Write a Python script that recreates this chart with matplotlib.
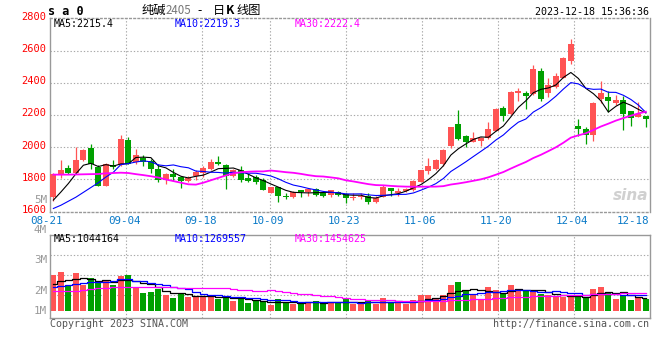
import numpy as np
import pandas as pd
import matplotlib
matplotlib.use("Agg")
import matplotlib.pyplot as plt
import matplotlib.transforms as mtransforms

# ---------------- data ----------------
opens = [1693, 1831, 1874, 1843, 1919, 1997, 1878, 1759, 1892, 1888,
         2046, 1909, 1933, 1915, 1864, 1796, 1837, 1813, 1790, 1821,
         1843, 1867, 1908, 1892, 1820, 1861, 1806, 1816, 1796, 1718,
         1751, 1696, 1690, 1735, 1725, 1743, 1714, 1704, 1725, 1710,
         1686, 1690, 1699, 1662, 1692, 1744, 1719, 1727, 1733, 1785,
         1850, 1867, 1898, 2010, 2144, 2072, 2035, 2041, 2055, 2103,
         2242, 2207, 2339, 2339, 2328, 2472, 2339, 2375, 2431, 2533,
         2134, 2115, 2074, 2300, 2314, 2277, 2293, 2222, 2187, 2191]
highs = [1840, 1919, 1888, 2001, 1991, 2022, 1888, 1901, 1923, 2077,
         2063, 1991, 1954, 1925, 1895, 1839, 1862, 1823, 1823, 1858,
         1884, 1929, 1945, 1898, 1863, 1884, 1837, 1827, 1806, 1755,
         1753, 1718, 1727, 1737, 1745, 1745, 1718, 1737, 1731, 1714,
         1713, 1717, 1713, 1699, 1768, 1748, 1744, 1744, 1799, 1860,
         1934, 1928, 1990, 2127, 2230, 2076, 2096, 2062, 2154, 2246,
         2256, 2351, 2369, 2349, 2509, 2492, 2431, 2462, 2560, 2669,
         2175, 2123, 2279, 2410, 2349, 2324, 2318, 2226, 2283, 2195]
lows = [1668, 1806, 1831, 1840, 1917, 1864, 1757, 1757, 1868, 1886,
        1897, 1899, 1882, 1843, 1786, 1772, 1790, 1749, 1786, 1796,
        1815, 1857, 1888, 1739, 1818, 1782, 1786, 1772, 1733, 1716,
        1659, 1680, 1684, 1694, 1698, 1700, 1694, 1694, 1698, 1653,
        1672, 1680, 1647, 1651, 1690, 1699, 1699, 1723, 1731, 1783,
        1836, 1861, 1883, 1994, 2045, 2004, 2031, 2006, 2053, 2101,
        2160, 2201, 2287, 2238, 2322, 2287, 2314, 2365, 2427, 2515,
        2068, 2017, 2037, 2273, 2216, 2263, 2109, 2134, 2185, 2123]
closes = [1837, 1858, 1839, 1923, 1985, 1895, 1759, 1899, 1878, 2052,
          1899, 1954, 1909, 1864, 1796, 1837, 1813, 1790, 1811, 1847,
          1874, 1908, 1896, 1820, 1857, 1796, 1792, 1786, 1735, 1751,
          1698, 1692, 1725, 1725, 1743, 1704, 1698, 1733, 1704, 1684,
          1692, 1699, 1662, 1686, 1754, 1727, 1731, 1738, 1789, 1856,
          1881, 1918, 1980, 2123, 2051, 2031, 2057, 2057, 2113, 2236,
          2195, 2343, 2349, 2320, 2484, 2300, 2386, 2441, 2554, 2638,
          2115, 2078, 2277, 2334, 2287, 2293, 2207, 2181, 2207, 2175]
# volume, in millions of lots
volumes = [3.03, 3.25, 2.08, 3.17, 2.19, 2.78, 2.42, 2.50, 2.19, 2.94,
           3.03, 2.00, 1.50, 1.58, 1.81, 1.36, 1.08, 1.50, 1.17, 1.17,
           1.19, 1.22, 1.03, 1.25, 0.83, 1.03, 0.67, 0.89, 0.81, 0.53,
           0.97, 0.75, 0.61, 0.61, 0.75, 0.83, 0.67, 0.75, 0.67, 0.97,
           0.61, 0.56, 0.83, 0.61, 1.08, 0.75, 0.75, 0.61, 0.94, 1.31,
           1.36, 1.11, 1.36, 2.19, 2.42, 1.78, 1.31, 0.97, 2.00, 1.72,
           1.50, 2.19, 1.72, 1.64, 1.64, 1.44, 1.36, 1.17, 1.17, 1.31,
           1.22, 1.08, 1.86, 2.00, 1.58, 1.03, 1.31, 0.94, 1.17, 1.03]

# moving-average values at the start of the window (history before the chart)
ma5_head = [1672, 1722, 1775, 1835]
ma10_head = [1620, 1640, 1665, 1690, 1720, 1750, 1780, 1815, 1845]
ma30_head = [1830, 1830, 1830, 1831, 1832, 1833, 1834, 1838, 1840, 1842,
             1840, 1833, 1827, 1820, 1812, 1800, 1790, 1780, 1770, 1768,
             1780, 1795, 1810, 1825, 1838, 1845, 1848, 1850, 1850]
vma5_head = [2.25, 2.47, 2.58, 2.64]
vma10_head = [1.97, 2.06, 2.14, 2.25, 2.33, 2.39, 2.42, 2.42, 2.50]
vma30_head = [1.66, 1.66, 1.67, 1.68, 1.75, 1.85, 1.90, 1.94, 1.96, 1.97,
              1.99, 2.01, 2.02, 2.02, 2.02, 2.00, 1.97, 1.95, 1.93, 1.92,
              1.92, 1.92, 1.91, 1.90, 1.85, 1.78, 1.73, 1.70, 1.67]

date_labels = ["08-21", "09-04", "09-18", "10-09", "10-23", "11-06", "11-20", "12-04", "12-18"]
date_label_idx = [0, 10, 20, 29, 39, 49, 59, 69, 79]
price_ticks = [2800, 2600, 2400, 2200, 2000, 1800, 1600]
vol_tick_labels = ["5M", "4M", "3M", "2M", "1M"]

title_code = "s a 0"
title_name = "纯碱"
title_contract = "2405"
title_dash = "-"
title_day = "日"
title_k = "K"
title_tail = "线图"
timestamp = "2023-12-18 15:36:36"
price_ma_labels = ["MA5:2215.4", "MA10:2219.3", "MA30:2222.4"]
vol_ma_labels = ["MA5:1044164", "MA10:1269557", "MA30:1454625"]
copyright_text = "Copyright 2023 SINA.COM"
url_text = "http://finance.sina.com.cn"


def moving_avg(values, head, w):
    s = pd.Series(values, dtype=float).rolling(w).mean().to_numpy()
    s[:w - 1] = head
    return s


ma5 = moving_avg(closes, ma5_head, 5)
ma10 = moving_avg(closes, ma10_head, 10)
ma30 = moving_avg(closes, ma30_head, 30)
vma5 = moving_avg(volumes, vma5_head, 5)
vma10 = moving_avg(volumes, vma10_head, 10)
vma30 = moving_avg(volumes, vma30_head, 30)

# ---------------- style ----------------
W, H = 660, 360
RED = "#FF5454"
GREEN = "#00A000"
GRIDC = "#A8A8A8"
FRAMEC = "#999999"
MONO = "DejaVu Sans Mono"
CJK = ["Noto Sans CJK SC", "DejaVu Sans"]
FS = 7.2
DOT = (0, (1.2, 1.8))

fig = plt.figure(figsize=(6.6, 3.6), dpi=100)
fig.patch.set_facecolor("white")


def px_axes(x0, y0, x1, y1):
    return fig.add_axes([x0 / W, 1 - y1 / H, (x1 - x0) / W, (y1 - y0) / H])


def ftext(x, y, s, **kw):
    fig.text(x / W, 1 - y / H, s, **kw)


ax = px_axes(50, 18.3, 650, 211.7)
axv = px_axes(50, 234.5, 650, 318)

n = len(closes)
x = np.arange(n)
xlim = (-0.45, n - 0.45)
grid_x = [k * n / (n - 1) - 0.45 for k in date_label_idx]

o = np.array(opens, float)
c = np.array(closes, float)
hi = np.array(highs, float)
lo = np.array(lows, float)
up = c >= o
cols = np.where(up, RED, GREEN)

# ---- price panel ----
for gx in grid_x[1:-1]:
    ax.axvline(gx, color=GRIDC, lw=0.8, ls=DOT, zorder=0)
for pt in price_ticks[1:-1]:
    ax.axhline(pt, color=GRIDC, lw=0.8, ls=DOT, zorder=0)

ax.vlines(x, lo, hi, colors=cols, lw=0.9, zorder=2)
body_h = np.maximum(np.abs(c - o), 5)
body_b = np.minimum(o, c)
ax.bar(x, body_h, bottom=body_b, width=0.8, color=cols, lw=0, zorder=3)

ax.plot(x, ma5, color="black", lw=0.8, zorder=4)
ax.plot(x, ma10, color="#0000FF", lw=0.8, zorder=4)
ax.plot(x, ma30, color="#FF00FF", lw=1.3, zorder=4)

ax.set_xlim(*xlim)
ax.set_ylim(price_ticks[-1], price_ticks[0])
ax.set_xticks([])
ax.set_yticks([])
for s in ax.spines.values():
    s.set_color(FRAMEC)
    s.set_linewidth(1.0)
ax.spines["top"].set_linestyle(DOT)
ax.spines["bottom"].set_linestyle(DOT)

ytrans = mtransforms.offset_copy(ax.get_yaxis_transform(), fig=fig, x=-3.3, y=1.5, units="dots")
for pt in price_ticks:
    ax.text(0, pt, str(pt), transform=ytrans, ha="right", va="center",
            color="#FF0000", fontsize=FS + 0.3, family=MONO, clip_on=False)

# date labels
xtrans = mtransforms.blended_transform_factory(ax.transData, fig.transFigure)
for k, (lab, gx) in enumerate(zip(date_labels, grid_x)):
    if k == len(date_labels) - 1:
        ha, gxx = "right", gx - 0.1
    elif k == 0:
        ha, gxx = "center", gx - 0.5
    else:
        ha, gxx = "center", gx - 0.25
    ax.text(gxx, 1 - 221 / H, lab, transform=xtrans, ha=ha, va="center",
            color="#0A7AC8", fontsize=FS + 0.6, family=MONO, clip_on=False)

# watermark
ax.text(0.998, 0.085, "sina", transform=ax.transAxes, ha="right", va="center",
        fontsize=11, fontstyle="italic", fontweight="bold", color="#D0D0D0", zorder=1)

# ---- volume panel ----
for gx in grid_x[1:-1]:
    axv.axvline(gx, color=GRIDC, lw=0.8, ls=DOT, zorder=0)
for fy in (0.272, 0.511, 0.751):
    axv.plot([0, 1], [fy, fy], transform=axv.transAxes, color=GRIDC, lw=0.8,
             ls=DOT, zorder=0)
vol = np.array(volumes) * 1e6
axv.bar(x, vol, width=0.8, color=cols, lw=0, zorder=2)
axv.plot(x, vma5 * 1e6, color="black", lw=0.9, drawstyle="steps-mid", zorder=3)
axv.plot(x, vma10 * 1e6, color="#0000FF", lw=0.9, drawstyle="steps-mid", zorder=3)
axv.plot(x, vma30 * 1e6, color="#FF00FF", lw=0.9, drawstyle="steps-mid", zorder=3)
axv.set_xlim(*xlim)
px_per_m = 12.0
axv.set_ylim(-7 / px_per_m * 1e6, 76.5 / px_per_m * 1e6)
axv.set_xticks([])
axv.set_yticks([])
for s in axv.spines.values():
    s.set_color(FRAMEC)
    s.set_linewidth(1.0)

vol_tick_px = [200, 230, 260, 291, 311]
for lab, yp in zip(vol_tick_labels, vol_tick_px):
    ftext(47, yp, lab, ha="right", va="center", color="#999999", fontsize=FS + 0.6, family=MONO)

# ---- header texts ----
ftext(48, 11.5, title_code, ha="left", va="center", fontsize=8.5, family=MONO, fontweight="bold")
ftext(141.5, 10.5, title_name, ha="left", va="center", fontsize=8.8, family=CJK)
ftext(165.5, 10.5, title_contract, ha="left", va="center", fontsize=8.3, family=CJK, color="#777777")
ftext(197, 10.5, title_dash, ha="left", va="center", fontsize=8.8, family=CJK)
ftext(212.5, 10.5, title_day, ha="left", va="center", fontsize=8.8, family=CJK)
ftext(225.5, 10.5, title_k, ha="left", va="center", fontsize=8.8, family=CJK, fontweight="bold")
ftext(236.5, 10.5, title_tail, ha="left", va="center", fontsize=8.8, family=CJK)
ftext(649, 12.3, timestamp, ha="right", va="center", fontsize=FS, family=MONO)

ma_cols = ["black", "#0000FF", "#FF00FF"]
ma_x = [54, 174.5, 295]
for lab, cc, xx in zip(price_ma_labels, ma_cols, ma_x):
    ftext(xx, 24, lab, ha="left", va="center", fontsize=FS, family=MONO, color=cc)
for lab, cc, xx in zip(vol_ma_labels, ma_cols, ma_x):
    ftext(xx, 239.5, lab, ha="left", va="center", fontsize=FS, family=MONO, color=cc)

ftext(50, 324, copyright_text, ha="left", va="center", fontsize=FS, family=MONO, color="#555555")
ftext(649, 324, url_text, ha="right", va="center", fontsize=FS, family=MONO, color="#555555")

fig.savefig("out.png", dpi=100, facecolor="white")
